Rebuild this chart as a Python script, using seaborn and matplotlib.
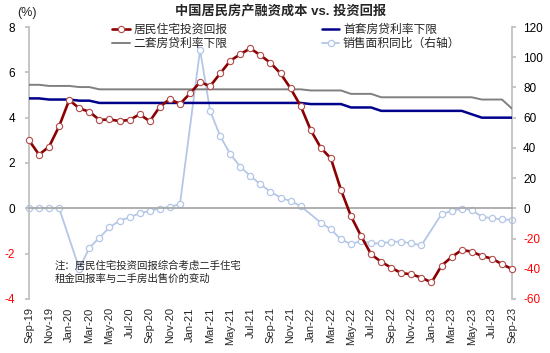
import pandas as pd
import seaborn as sns
import matplotlib.pyplot as plt

# monthly, Sep-19 .. Sep-23
months = pd.date_range('2019-09-01', '2023-09-01', freq='MS').strftime('%b-%y').tolist()

# 居民住宅投资回报 (%)
invest_return = [3.0, 2.37, 2.72, 3.63, 4.78, 4.41, 4.26, 3.9, 3.92, 3.85, 3.9, 4.15,
                 3.84, 4.48, 4.82, 4.6, 5.07, 5.57, 5.39, 5.95, 6.51, 6.8, 7.06, 6.75,
                 6.42, 5.95, 5.29, 4.51, 3.45, 2.67, 2.2, 0.82, -0.35, -1.22, -2.03, -2.36,
                 -2.62, -2.86, -2.91, -3.06, -3.27, -2.53, -2.15, -1.84, -1.91, -2.1, -2.22, -2.46,
                 -2.68]

# 首套房贷利率下限 (%)
first_home = [4.85, 4.85, 4.8, 4.8, 4.8, 4.75, 4.75, 4.65, 4.65, 4.65, 4.65, 4.65,
              4.65, 4.65, 4.65, 4.65, 4.65, 4.65, 4.65, 4.65, 4.65, 4.65, 4.65, 4.65,
              4.65, 4.65, 4.65, 4.65, 4.6, 4.6, 4.6, 4.6, 4.45, 4.45, 4.45, 4.3,
              4.3, 4.3, 4.3, 4.3, 4.3, 4.3, 4.3, 4.3, 4.15, 4.0, 4.0, 4.0,
              4.0]

# 二套房贷利率下限 (%)
second_home = [5.45, 5.45, 5.4, 5.4, 5.4, 5.35, 5.35, 5.25, 5.25, 5.25, 5.25, 5.25,
               5.25, 5.25, 5.25, 5.25, 5.25, 5.25, 5.25, 5.25, 5.25, 5.25, 5.25, 5.25,
               5.25, 5.25, 5.25, 5.25, 5.2, 5.2, 5.2, 5.2, 5.05, 5.05, 5.05, 4.9,
               4.9, 4.9, 4.9, 4.9, 4.9, 4.9, 4.9, 4.9, 4.9, 4.8, 4.8, 4.8,
               4.4]

# 销售面积同比 (%, right axis), Jan months not published
sales_area_yoy = [0.0, 0.0, 0.0, 0.0, None, -39.9, -26.1, -19.4, -12.6, -8.2, -6.0, -3.3,
                  -1.6, -0.2, 1.1, 2.6, None, 104.9, 64.6, 47.8, 35.9, 27.5, 21.4, 15.9,
                  11.0, 7.0, 4.8, 1.5, None, -9.5, -13.9, -20.5, -23.7, -21.6, -23.2, -23.2,
                  -22.1, -22.1, -23.2, -24.5, None, -3.8, -1.8, -0.3, -1.1, -5.5, -6.6, -7.3,
                  -7.7]

df = pd.DataFrame({'idx': range(len(months)), 'invest': invest_return,
                   'first': first_home, 'second': second_home, 'sales': sales_area_yoy})

sns.set_theme(style='white')
plt.rcParams['font.family'] = ['Liberation Sans', 'Noto Sans CJK SC', 'DejaVu Sans']
plt.rcParams['axes.unicode_minus'] = False

fig = plt.figure(figsize=(5.5, 3.53), dpi=100)
ax = fig.add_axes([0.0527, 0.153, 0.8782, 0.7705])
ax2 = ax.twinx()

red = '#8B0000'
navy = '#00008B'
grey = '#808080'
lblue = '#B4C7E7'

sns.lineplot(data=df, x='idx', y='invest', ax=ax, color=red, linewidth=1.9,
             marker='o', markersize=4.5, markerfacecolor='white', markeredgecolor='#B24A4A',
             markeredgewidth=0.8, label='居民住宅投资回报', legend=False, clip_on=False, zorder=5)
sns.lineplot(data=df, x='idx', y='second', ax=ax, color=grey, linewidth=1.4,
             label='二套房贷利率下限', legend=False, zorder=3)
sns.lineplot(data=df, x='idx', y='first', ax=ax, color=navy, linewidth=1.8,
             label='首套房贷利率下限', legend=False, zorder=3)
sns.lineplot(data=df[['idx', 'sales']].dropna(), x='idx', y='sales', ax=ax2, color=lblue,
             linewidth=1.3, marker='o', markersize=4.5, markerfacecolor='white',
             markeredgecolor=lblue, markeredgewidth=0.9, label='销售面积同比（右轴）',
             legend=False, clip_on=False)

ax.set_zorder(ax2.get_zorder() + 1)
ax.patch.set_visible(False)

ax.set_xlim(0, 48)
ax.set_ylim(-4, 8)
ax2.set_ylim(-60, 120)
for a in (ax, ax2):
    a.set_xlabel('')
    a.set_ylabel('')

lticks = list(range(-4, 9, 2))
ax.set_yticks(lticks, labels=[str(t) for t in lticks])
rticks = list(range(-60, 121, 20))
ax2.set_yticks(rticks, labels=[str(t) for t in rticks])
for lbl, t in zip(ax.get_yticklabels(), lticks):
    lbl.set_color('#FF0000' if t < 0 else 'black')
for lbl, t in zip(ax2.get_yticklabels(), rticks):
    lbl.set_color('#FF0000' if t < 0 else 'black')
ax.tick_params(axis='y', direction='out', length=3, color='#BFBFBF', labelsize=8.5, pad=7)
ax2.tick_params(axis='y', direction='out', length=3, color='#BFBFBF', labelsize=8.5, pad=5)

# x axis runs through zero, labels at bottom
ax.spines['bottom'].set_position(('data', 0))
ax.spines['bottom'].set_color('#A6A6A6')
ax.set_xticks(range(0, 49, 2))
ax.tick_params(axis='x', direction='in', length=3, color='#A6A6A6', labelbottom=False)
sec = ax.secondary_xaxis('bottom')
sec.set_xticks(range(0, 49, 2), labels=months[::2], rotation=90)
sec.tick_params(length=0, labelsize=8, pad=6)
sec.spines['bottom'].set_visible(False)

for s in ['top', 'right']:
    ax.spines[s].set_visible(False)
ax.spines['left'].set_color('#BFBFBF')
for s in ['top', 'bottom', 'left']:
    ax2.spines[s].set_visible(False)
ax2.spines['right'].set_color('#BFBFBF')

h1, l1 = ax.get_legend_handles_labels()
h2, l2 = ax2.get_legend_handles_labels()
handles = dict(zip(l1 + l2, h1 + h2))
order = ['居民住宅投资回报', '二套房贷利率下限', '首套房贷利率下限', '销售面积同比（右轴）']
fig.legend([handles[k] for k in order], order, ncol=2, loc='upper left',
           bbox_to_anchor=(0.195, 0.945), frameon=False, fontsize=8.5,
           handlelength=1.5, handletextpad=0.3, columnspacing=8.0, labelspacing=0.15,
           borderaxespad=0)

fig.text(0.51, 0.965, '中国居民房产融资成本 vs. 投资回报', ha='center', va='center',
         fontsize=9.5, fontweight='bold')
fig.text(0.032, 0.962, '(%)', ha='left', va='center', fontsize=9)
ax.text(0.053, 0.14, '注：居民住宅投资回报综合考虑二手住宅\n租金回报率与二手房出售价的变动',
        transform=ax.transAxes, fontsize=7.5, style='italic', va='top', ha='left',
        linespacing=1.3)

fig.savefig('out.png', dpi=100)
